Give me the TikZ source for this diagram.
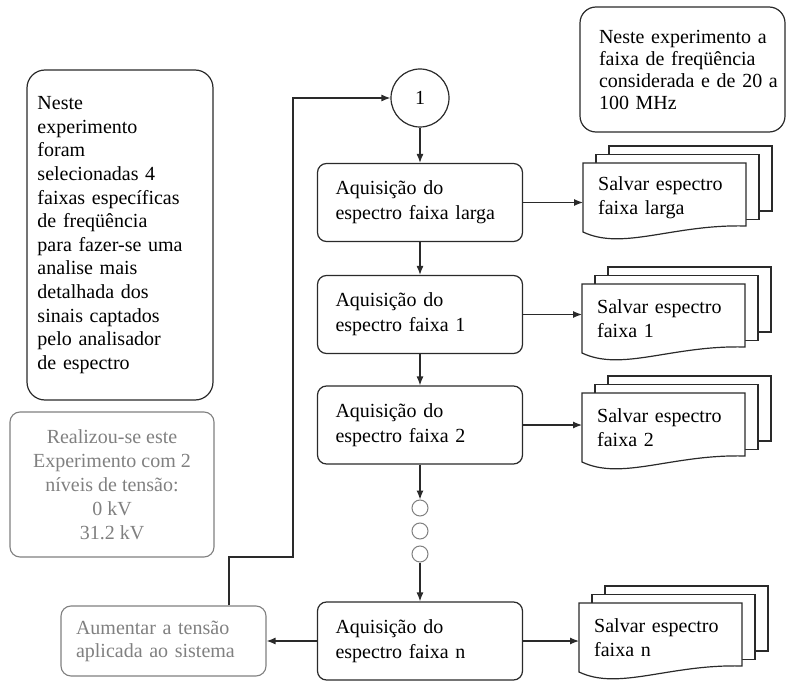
\documentclass[tikz,border=0pt]{standalone}
\usepackage{fontspec}
\setmainfont{Liberation Serif}
\usetikzlibrary{arrows.meta,calc}
\definecolor{linec}{HTML}{2A2A2A}
\definecolor{greyc}{HTML}{808080}
\newcommand\docstack[4]{%
  \draw[docline] (#2+26,#3-17) rectangle ++(163,65);
  \draw[docline] (#2+13,#3-8.5) rectangle ++(163,65);
  \draw[docline] (#2,#3) -- (#2+163,#3) -- (#2+163,#3+63)
     .. controls (#2+90,#3+61) and (#2+40,#3+88) .. (#2,#3+69) -- cycle;
  \node[doctext, anchor=north west] (#1) at (#2,#3) {#4};
}
\begin{document}
\begin{tikzpicture}[x=1pt,y=-1pt,
  every node/.style={font=\fontsize{20}{24}\selectfont},
  box/.style={draw=linec, line width=1.2pt, rounded corners=9pt, minimum width=205pt,
     minimum height=78pt, text width=169pt, align=left, inner xsep=18pt, inner ysep=0pt,
     font=\fontsize{20}{25}\selectfont},
  greybox/.style={draw=greyc, line width=1.1pt, rounded corners=10pt, text=greyc},
  note/.style={draw=linec, line width=1.2pt, rounded corners=16pt, align=left},
  docline/.style={draw=linec, line width=1.2pt, fill=white},
  doctext/.style={minimum width=163pt, minimum height=69pt, text width=133pt,
     inner xsep=15pt, inner ysep=0pt, align=left},
  dot/.style={circle, draw=greyc, line width=1pt, minimum size=16pt, inner sep=0pt},
  arr/.style={draw=linec, line width=1.2pt, -{Latex[length=9pt,width=7pt]}},
  ]
\useasboundingbox (0,0) rectangle (788,682);

% notes
\node[note, rounded corners=18pt, minimum width=186pt, minimum height=330pt,
      text width=165pt, inner xsep=10.5pt, font=\fontsize{20}{23.6}\selectfont] (n1) at (120,235)
 {Neste\\experimento\\foram\\selecionadas 4\\faixas específicas\\de freqüência\\para fazer-se uma\\analise mais\\detalhada dos\\sinais captados\\pelo analisador\\de espectro};
\node[note, minimum width=205pt, minimum height=125pt, text width=167pt, inner xsep=19pt,
      font=\fontsize{20}{22}\selectfont] (n2) at (682.5,69.5)
 {\mbox{Neste experimento a}\\\mbox{faixa de freqüência}\\\mbox{considerada e de 20 a}\\\mbox{100 MHz}};
\node[greybox, minimum width=204pt, minimum height=145pt, align=center] (n3) at (112,484.5)
 {Realizou-se este\\Experimento com 2\\níveis de tensão:\\0 kV\\31.2 kV};

% main flow
\node[circle, draw=linec, line width=1.2pt, minimum size=58pt, inner sep=0pt] (c1) at (420,98) {1};
\node[box] (b1) at (420,202.5) {Aquisição do\\espectro faixa larga};
\node[box] (b2) at (420,314.5) {Aquisição do\\espectro faixa 1};
\node[box] (b3) at (420,425) {Aquisição do\\espectro faixa 2};
\node[dot] (p1) at (420,508) {};
\node[dot] (p2) at (420,531) {};
\node[dot] (p3) at (420,554) {};
\node[box] (bn) at (420,641) {Aquisição do\\espectro faixa n};
\node[greybox, minimum width=205pt, minimum height=70pt, text width=175pt, align=left,
      inner xsep=15pt, inner ysep=0pt, font=\fontsize{20}{23}\selectfont] (au) at (163.5,641)
 {Aumentar a tensão\\aplicada ao sistema};

% documents
\docstack{d1}{583}{163}{Salvar espectro\\faixa larga}
\docstack{d2}{582}{284}{Salvar espectro\\faixa 1}
\docstack{d3}{582}{393}{Salvar espectro\\faixa 2}
\docstack{dn}{579}{603}{Salvar espectro\\faixa n}

% connectors
\draw[arr] (c1.south) -- (b1.north);
\draw[arr] (b1.south) -- (b2.north);
\draw[arr] (b2.south) -- (b3.north);
\draw[arr] (b3.south) -- (p1.north);
\draw[arr] (p3.south) -- (bn.north);
\draw[arr] (b1.east) -- (b1.east -| d1.west);
\draw[arr] (b2.east) -- (b2.east -| d2.west);
\draw[arr] (b3.east) -- (b3.east -| d3.west);
\draw[arr] (bn.east) -- (bn.east -| dn.west);
\draw[arr] (bn.west) -- (au.east);
\coordinate (k0) at (229,557);
\coordinate (k1) at (293,557);
\draw[arr] (k0 |- au.north) -- (k0) -- (k1) |- (c1.west);
\end{tikzpicture}
\end{document}
